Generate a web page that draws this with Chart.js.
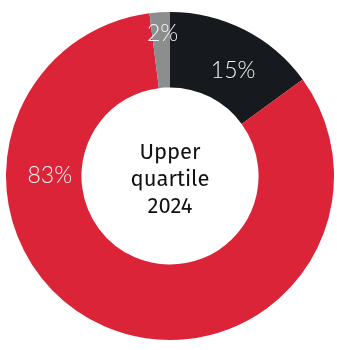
<!DOCTYPE html>
<html lang="en">
<head>
  <meta charset="UTF-8">
  <title>Upper quartile 2024</title>
  <script src="https://cdn.jsdelivr.net/npm/chart.js"></script>
  <style>
    html, body { margin: 0; padding: 0; background: #fff; }
    #wrap { width: 337px; height: 350px; }
  </style>
</head>
<body>
  <div id="wrap"><canvas id="quartileChart"></canvas></div>
  <script>
    // shares of the upper quartile, clockwise from 12 o'clock
    const categories = ['Black', 'Red', 'Grey'];
    const shares = [15, 83, 2];
    const centerLines = ['Upper', 'quartile', '2024'];

    const sliceColors = ['#16191d', '#dc2439', '#8b8d8f'];
    // where each % label sits: angle (deg, clockwise from top) and position across the ring (0 = inner, 1 = outer)
    const labelAngle = [31, 270, 357];
    const labelDepth = [0.45, 0.42, 0.72];

    const sliceLabels = {
      id: 'sliceLabels',
      afterDatasetsDraw(chart) {
        const c = chart.ctx;
        const arcs = chart.getDatasetMeta(0).data;
        c.save();
        c.font = '300 23px Lato, "Open Sans", sans-serif';
        c.fillStyle = '#f4f4f4';
        c.textAlign = 'center';
        c.textBaseline = 'middle';
        arcs.forEach((arc, i) => {
          const r = arc.innerRadius + (arc.outerRadius - arc.innerRadius) * labelDepth[i];
          const a = labelAngle[i] * Math.PI / 180;
          c.fillText(shares[i] + '%', arc.x + r * Math.sin(a), arc.y - r * Math.cos(a));
        });

        // caption in the hole
        const mid = arcs[0];
        c.font = '400 22px "Fira Sans", "Open Sans", sans-serif';
        c.fillStyle = '#111';
        const lh = 27;
        centerLines.forEach((t, i) => {
          c.fillText(t, mid.x, mid.y + (i - (centerLines.length - 1) / 2) * lh + 4);
        });
        c.restore();
      }
    };

    new Chart(document.getElementById('quartileChart'), {
      type: 'doughnut',
      data: {
        labels: categories,
        datasets: [{
          data: shares,
          backgroundColor: sliceColors,
          borderWidth: 0
        }]
      },
      options: {
        responsive: true,
        maintainAspectRatio: false,
        animation: false,
        cutout: '54%',
        layout: { padding: { top: 12, bottom: 10, left: 6, right: 3 } },
        plugins: {
          legend: { display: false },
          tooltip: { enabled: false }
        }
      },
      plugins: [sliceLabels]
    });
  </script>
</body>
</html>
